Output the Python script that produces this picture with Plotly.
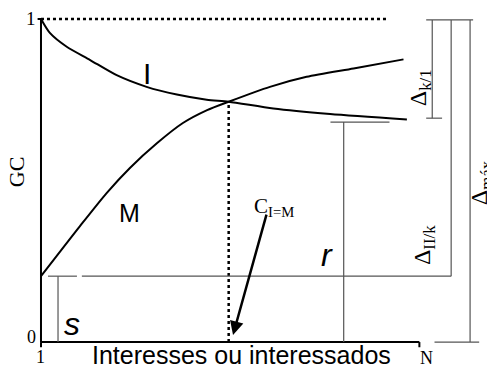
import plotly.graph_objects as go

# Curve I (interesses) and M (interessados)
i_x = [0, 2.4, 6.8, 13.0, 20.0, 27.9, 35.9, 43.8, 49.6, 61.4, 76.4, 96.7]
i_y = [1.0, 0.956, 0.914, 0.873, 0.826, 0.790, 0.766, 0.750, 0.744, 0.723, 0.706, 0.689]
m_x = [0, 10.3, 17.4, 23.5, 30.7, 37.5, 43.9, 49.6, 60.5, 70.2, 82.6, 95.8]
m_y = [0.204, 0.359, 0.462, 0.539, 0.616, 0.678, 0.718, 0.744, 0.790, 0.821, 0.847, 0.875]

x_cross = 49.6
y_cross = 0.744
y_s = 0.204      # level s
y_r = 0.681      # level r
y_end_i = 0.693  # end of I
x_n = 100        # position of N

fig = go.Figure()

fig.add_trace(go.Scatter(x=i_x, y=i_y, mode='lines',
                         line=dict(color='black', width=2, shape='spline', smoothing=0.7)))
fig.add_trace(go.Scatter(x=m_x, y=m_y, mode='lines',
                         line=dict(color='black', width=2, shape='spline', smoothing=0.7)))

black = dict(color='black', width=2)
dots = dict(color='black', width=2.5, dash='dot')
gray = dict(color='#555555', width=1.2)

def seg(x0, y0, x1, y1, line):
    fig.add_shape(type='line', x0=x0, y0=y0, x1=x1, y1=y1, line=line, xref='x', yref='y')

# axes
seg(0, 0, 0, 1, black)
seg(-0.9, 1, 0, 1, black)
seg(0, 0, x_n, 0, black)
seg(0, 0, 0, -0.016, black)
seg(x_n, 0, x_n, -0.016, black)

# dotted lines
seg(0, 1, 91.6, 1, dots)
seg(x_cross, 0, x_cross, y_cross, dots)

# gray construction lines
seg(1.85, y_s, 9.5, y_s, gray)
seg(10.8, y_s, 108.4, y_s, gray)
seg(4.5, 0, 4.5, y_s, gray)
seg(80, 0, 80, y_r, gray)
seg(76.5, y_r, 92.1, y_r, gray)
seg(108.4, y_s, 108.4, 0.997, gray)
seg(101.8, 0.997, 114.2, 0.997, gray)
seg(103.4, y_end_i, 103.4, 0.997, gray)
seg(101.8, y_end_i, 106, y_end_i, gray)
seg(113.4, 0, 113.4, 0.997, gray)
seg(104, 0, 115.8, 0, gray)

serif = 'Liberation Serif'
sans = 'Liberation Sans'

def label(x, y, text, size, family, angle=0, xanchor='center', yanchor='middle'):
    fig.add_annotation(x=x, y=y, text=text, showarrow=False, textangle=angle,
                       xanchor=xanchor, yanchor=yanchor,
                       font=dict(family=family, size=size, color='black'))

label(-0.8, 1.0, '1', 19, serif, xanchor='right')
label(-0.8, 0.015, '0', 18, serif, xanchor='right')
label(0, -0.047, '1', 18, serif)
label(102, -0.05, 'N', 18, serif)
label(52.9, -0.04, 'Interesses ou interessados', 25, sans)
label(-6.6, 0.526, 'GC', 22, serif, angle=-90)
label(28, 0.83, 'I', 30, sans)
label(23.5, 0.40, 'M', 25, sans)
label(75.6, 0.27, '<i>r</i>', 32, sans)
label(8.2, 0.055, '<i>s</i>', 32, sans)
label(61.6, 0.418, 'C<sub>I=M</sub>', 21, serif)
label(100.2, 0.786, 'Δ<sub>k/1</sub>', 24, serif, angle=-90)
label(101.2, 0.300, 'Δ<sub>II/k</sub>', 24, serif, angle=-90)
label(116.3, 0.492, 'Δ<sub>máx</sub>', 24, serif, angle=-90)

# arrow towards C_I=M
fig.add_annotation(x=50.75, y=0.022, ax=59.7, ay=0.399, axref='x', ayref='y',
                   text='', showarrow=True, arrowhead=2, arrowsize=1.1,
                   arrowwidth=2.5, arrowcolor='black')

fig.update_layout(
    width=495, height=368,
    margin=dict(l=0, r=0, t=0, b=0),
    paper_bgcolor='white', plot_bgcolor='white',
    showlegend=False,
    xaxis=dict(range=[-8.72, 122.1], visible=False),
    yaxis=dict(range=[-0.105, 1.034], visible=False),
)
fig.write_html("out.html")
